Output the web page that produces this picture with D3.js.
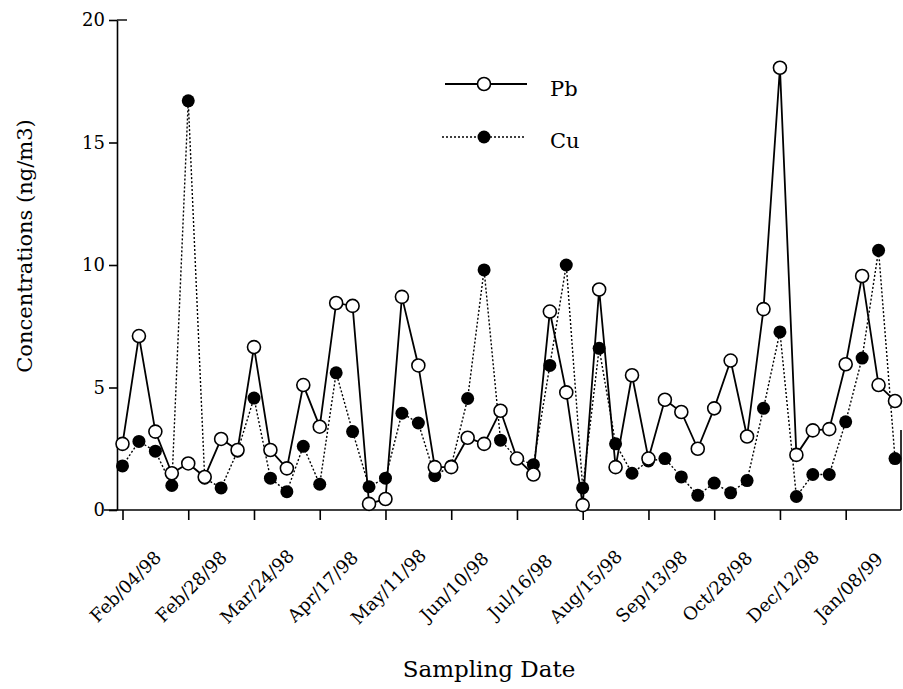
<!DOCTYPE html>
<html>
<head>
<meta charset="utf-8">
<script src="https://cdn.jsdelivr.net/npm/d3@7"></script>
<style>
  body { margin: 0; background: #fff; }
  text { font-family: "DejaVu Serif", "Liberation Serif", serif; fill: #000; }
</style>
</head>
<body>
<script>
// sampling dates shown on the axis (every 4th sample)
var tickLabels = ["Feb/04/98", "Feb/28/98", "Mar/24/98", "Apr/17/98", "May/11/98", "Jun/10/98",
  "Jul/16/98", "Aug/15/98", "Sep/13/98", "Oct/28/98", "Dec/12/98", "Jan/08/99"];

var pb = [2.7, 7.1, 3.2, 1.5, 1.9, 1.35, 2.9, 2.45, 6.65, 2.45,
  1.7, 5.1, 3.4, 8.45, 8.33, 0.25, 0.45, 8.7, 5.9, 1.75,
  1.75, 2.95, 2.7, 4.05, 2.1, 1.45, 8.1, 4.8, 0.2, 9.0,
  1.75, 5.5, 2.1, 4.5, 4.0, 2.5, 4.15, 6.1, 3.0, 8.2,
  18.05, 2.25, 3.25, 3.3, 5.95, 9.55, 5.1, 4.45];

var cu = [1.8, 2.8, 2.4, 1.0, 16.7, 1.3, 0.9, 2.4, 4.57, 1.3,
  0.75, 2.6, 1.05, 5.6, 3.2, 0.95, 1.3, 3.95, 3.55, 1.4,
  1.8, 4.55, 9.8, 2.85, 2.1, 1.85, 5.9, 10.0, 0.9, 6.6,
  2.7, 1.5, 2.0, 2.1, 1.35, 0.6, 1.1, 0.7, 1.2, 4.15,
  7.27, 0.55, 1.45, 1.45, 3.6, 6.2, 10.6, 2.1];

var yTicks = [0, 5, 10, 15, 20];

var width = 903, height = 689;

var svg = d3.select("body")
  .append("svg")
  .attr("width", width)
  .attr("height", height);

var x = d3.scaleLinear()
  .domain([0, pb.length - 1])
  .range([122.5, 895]);

var y = d3.scaleLinear()
  .domain([0, 20])
  .range([510, 20]);

// x axis
var xAxisCall = d3.axisBottom(x)
  .tickValues(tickLabels.map(function(d, i) { return i * 4; }))
  .tickFormat(function(d) { return tickLabels[d / 4]; })
  .tickSize(10)
  .tickSizeOuter(0);

var xAxis = svg.append("g")
  .attr("class", "x axis")
  .attr("transform", "translate(0,510)")
  .call(xAxisCall);

xAxis.select(".domain").remove();
xAxis.append("line")
  .attr("x1", 104).attr("x2", 901)
  .attr("y1", 0).attr("y2", 0)
  .attr("stroke", "#000").attr("stroke-width", 1.6);
xAxis.selectAll(".tick line").attr("stroke-width", 1.6);

xAxis.selectAll(".tick text")
  .attr("font-size", "18px")
  .attr("text-anchor", "middle")
  .attr("x", 0).attr("y", 0).attr("dy", 0)
  .attr("transform", "translate(7,81) rotate(-45)");

// y axis
var yAxisCall = d3.axisLeft(y)
  .tickValues(yTicks)
  .tickSize(8)
  .tickSizeOuter(0)
  .tickPadding(4);

var yAxis = svg.append("g")
  .attr("class", "y axis")
  .attr("transform", "translate(117,0)")
  .call(yAxisCall);

yAxis.select(".domain").attr("stroke-width", 1.6);
yAxis.selectAll(".tick line").attr("stroke-width", 1.6);
yAxis.selectAll(".tick text").attr("font-size", "18px");

// small cap at the top of the y axis
svg.append("line")
  .attr("x1", 117).attr("x2", 127)
  .attr("y1", y(20)).attr("y2", y(20))
  .attr("stroke", "#000").attr("stroke-width", 1.4);

// short right border piece
svg.append("line")
  .attr("x1", 901).attr("x2", 901)
  .attr("y1", 430).attr("y2", 510)
  .attr("stroke", "#000").attr("stroke-width", 1.6);

// axis titles
svg.append("text")
  .attr("x", 489)
  .attr("y", 677)
  .attr("font-size", "23px")
  .attr("text-anchor", "middle")
  .text("Sampling Date");

svg.append("text")
  .attr("x", -246)
  .attr("y", 32)
  .attr("font-size", "21px")
  .attr("text-anchor", "middle")
  .attr("transform", "rotate(-90)")
  .text("Concentrations (ng/m3)");

// lines
var line = d3.line()
  .x(function(d, i) { return x(i); })
  .y(function(d) { return y(d); });

svg.append("path")
  .datum(cu)
  .attr("fill", "none")
  .attr("stroke", "#000")
  .attr("stroke-width", 1.4)
  .attr("stroke-dasharray", "2,2")
  .attr("d", line);

svg.append("path")
  .datum(pb)
  .attr("fill", "none")
  .attr("stroke", "#000")
  .attr("stroke-width", 1.8)
  .attr("d", line);

svg.selectAll(".cu-dot")
  .data(cu)
  .enter()
  .append("circle")
  .attr("class", "cu-dot")
  .attr("cx", function(d, i) { return x(i); })
  .attr("cy", function(d) { return y(d); })
  .attr("r", 6.5)
  .attr("fill", "#000");

svg.selectAll(".pb-dot")
  .data(pb)
  .enter()
  .append("circle")
  .attr("class", "pb-dot")
  .attr("cx", function(d, i) { return x(i); })
  .attr("cy", function(d) { return y(d); })
  .attr("r", 6.5)
  .attr("fill", "#fff")
  .attr("stroke", "#000")
  .attr("stroke-width", 1.6);

// legend
var legend = svg.append("g").attr("class", "legend");

legend.append("line")
  .attr("x1", 445).attr("x2", 527)
  .attr("y1", 84).attr("y2", 84)
  .attr("stroke", "#000").attr("stroke-width", 1.8);
legend.append("circle")
  .attr("cx", 484).attr("cy", 84).attr("r", 6.5)
  .attr("fill", "#fff").attr("stroke", "#000").attr("stroke-width", 1.6);
legend.append("text")
  .attr("x", 550).attr("y", 96)
  .attr("font-size", "21px")
  .text("Pb");

legend.append("line")
  .attr("x1", 442).attr("x2", 525)
  .attr("y1", 137).attr("y2", 137)
  .attr("stroke", "#000").attr("stroke-width", 1.4)
  .attr("stroke-dasharray", "2,2");
legend.append("circle")
  .attr("cx", 484).attr("cy", 137).attr("r", 6.5)
  .attr("fill", "#000");
legend.append("text")
  .attr("x", 550).attr("y", 148)
  .attr("font-size", "21px")
  .text("Cu");
</script>
</body>
</html>
